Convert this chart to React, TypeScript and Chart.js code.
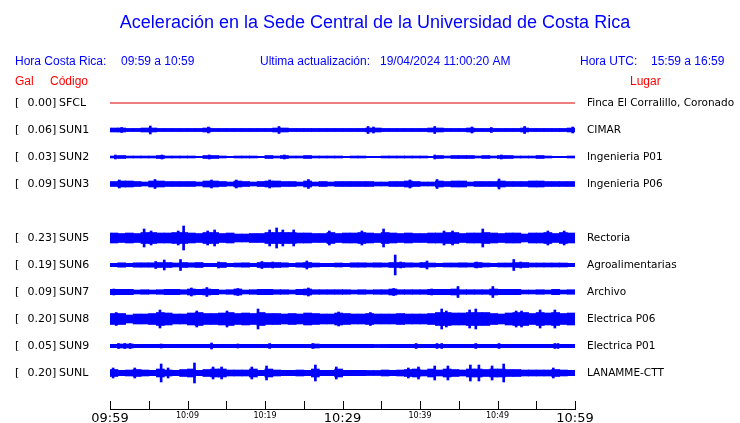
import { useEffect, useRef } from 'react';
import { Chart, registerables } from 'chart.js';

Chart.register(...registerables);

// ---- Data ----
const titleText = 'Aceleración en la Sede Central de la Universidad de Costa Rica';
const stationCodes = ['SFCL', 'SUN1', 'SUN2', 'SUN3', 'SUN5', 'SUN6', 'SUN7', 'SUN8', 'SUN9', 'SUNL'];
const stationGal = ['0.00', '0.06', '0.03', '0.09', '0.23', '0.19', '0.09', '0.20', '0.05', '0.20'];
const stationPlaces = [
  'Finca El Corralillo, Coronado', 'CIMAR', 'Ingenieria P01', 'Ingenieria P06', 'Rectoria',
  'Agroalimentarias', 'Archivo', 'Electrica P06', 'Electrica P01', 'LANAMME-CTT',
];
// row slot of each station (slot 4 = SUN4, absent)
const stationRows = [0, 1, 2, 3, 5, 6, 7, 8, 9, 10];
// time axis: minutes after 09:59
const tickLabels = ['09:59', '10:09', '10:19', '10:29', '10:39', '10:49', '10:59'];

// steady background band half-amplitude of each trace (relative units)
const coreAmp = [0, 1.5, 0.7, 2, 3.5, 1.7, 2, 3.5, 1.7, 2.3];

// per-minute envelope half-amplitude of each trace (60 one-minute bins)
const sun1Env = [2, 2, 1.5, 1.5, 2, 2, 1.5, 1.5, 1.5, 1.5, 1.5, 1.5, 2, 1.5, 1.5, 1.5, 1.5, 1.5, 1.5, 1.5,
  1.5, 2, 2, 1.5, 1.5, 1.5, 1.5, 1.5, 1.5, 1.5, 1.5, 1.5, 1.5, 2, 2, 1.5, 1.5, 1.5, 1.5, 1.5,
  1.5, 2, 2, 1.5, 1.5, 1.5, 2, 1.5, 1.5, 1.5, 1.5, 1.5, 1.5, 2, 1.5, 1.5, 1.5, 1.5, 1.5, 2];
const sun2Env = [1, 1.5, 1, 1, 1, 1, 1.5, 1, 1, 1, 1, 0.7, 1.5, 1.5, 1, 0.7, 1, 1, 1, 0.7,
  1.5, 1, 1.5, 1, 1, 1.5, 1, 1, 1, 1, 0.7, 1, 1, 0.7, 0.7, 1, 1, 1, 1, 1,
  1, 0.7, 1.5, 1, 1.5, 1.5, 1.5, 1, 1.5, 1, 1.5, 1.5, 1, 1, 1, 1.5, 1, 0.7, 0.7, 1];
const sun3Env = [2.5, 3, 3, 2.5, 2, 3, 3, 2.5, 2.5, 2.5, 2.5, 2, 3, 3, 2.5, 2, 3, 2.5, 2, 2.5,
  3, 3, 2.5, 2.5, 2, 3, 2, 2.5, 2, 2.5, 2.5, 2.5, 2.5, 2.5, 2, 2, 2.5, 2.5, 3, 2.5,
  2, 2, 3, 2.5, 3, 3, 2, 2.5, 2.5, 2.5, 3, 2.5, 2.5, 2.5, 3, 3, 2.5, 2.5, 2.5, 2.5];
const sun5Env = [5, 4.5, 5, 4.5, 5.5, 5.5, 5, 5, 5.5, 5.5, 5, 4.5, 5.5, 5.5, 4.5, 5, 4, 4, 4.5, 4.5,
  5.5, 5.5, 5.5, 5.5, 5, 5, 4.5, 4.5, 5.5, 4.5, 5, 5, 5.5, 5, 4.5, 5.5, 5, 4.5, 5, 4.5,
  4.5, 5, 5, 5.5, 5.5, 4.5, 5, 5, 5.5, 5, 4.5, 5, 5, 4, 5, 5, 5.5, 4.5, 5.5, 5];
const sun6Env = [1.7, 2.2, 1.7, 2.2, 2.2, 2.2, 2.5, 2.5, 2, 2.5, 2.2, 2.5, 1.7, 1.7, 2.5, 1.7, 2, 2.2, 1.7, 2.5,
  2.5, 2.5, 2.2, 1.7, 2.2, 2.5, 2, 1.7, 1.7, 2, 1.7, 2.2, 2.2, 2, 2.2, 2, 2.5, 2.5, 2.2, 2,
  2.5, 2, 1.7, 2, 2, 2.2, 2, 2.5, 2, 1.7, 2, 2, 2.5, 2.5, 2, 2, 2, 2, 2, 1.7];
const sun7Env = [2.7, 2.7, 2.7, 2, 2.3, 2, 2.3, 2.7, 2.7, 2.3, 3, 2.7, 3, 2.7, 2, 2.3, 3, 2, 2.3, 2.7,
  2.7, 2.3, 2.3, 2, 2.7, 3, 2.3, 2.3, 2.3, 2.3, 2.3, 2, 2.3, 2, 2.3, 2.3, 3, 2.3, 2.3, 2.3,
  2.3, 2.7, 2.7, 2.7, 3, 2.3, 2.3, 2.3, 2.3, 3, 2.7, 2.7, 2.7, 2, 2, 2.3, 2, 2.7, 2, 2.3];
const sun8Env = [5.5, 5.5, 4, 5, 5, 5.5, 6.5, 6, 5, 5, 6, 6.5, 5.5, 5.5, 6, 6.5, 5.5, 6, 5.5, 6.5,
  5.5, 5.5, 5, 5.5, 5, 6, 5.5, 5, 5, 6, 5.5, 5, 5, 5.5, 5, 5, 5, 5.5, 5, 5,
  5, 5.5, 6.5, 6.5, 6, 6, 6.5, 6.5, 6.5, 5.5, 5, 6, 6.5, 6.5, 5.5, 6.5, 6, 6.5, 5.5, 6];
const sun9Env = [1.7, 2, 2, 1.7, 1.7, 1.7, 1.7, 1.7, 1.7, 1.7, 1.7, 1.7, 1.7, 1.7, 1.7, 1.7, 1.7, 1.7, 1.7, 1.7,
  1.7, 1.7, 1.7, 1.7, 1.7, 1.7, 2, 1.7, 1.7, 1.7, 1.7, 1.7, 1.7, 1.7, 1.3, 1.5, 1.7, 1.7, 1.7, 1.7,
  1.7, 1.7, 1.7, 1.7, 1.7, 1.7, 1.7, 1.7, 1.7, 1.7, 1.7, 1.7, 1.7, 1.7, 1.7, 1.7, 1.7, 1.7, 1.7, 1.7];
const sunlEnv = [3.5, 2.7, 3, 3.5, 3, 2.7, 4, 3, 2.7, 3.5, 4, 2.7, 3.5, 4, 4, 3, 3, 3, 4, 2.7,
  4, 3, 2.7, 2.7, 3, 2.7, 4, 2.7, 2.7, 4, 2.7, 2.7, 2.7, 2.5, 2.5, 3, 2.7, 3, 3.5, 4,
  3, 4, 3, 4, 3.5, 3, 4, 4, 3.5, 4, 4, 3.5, 3.5, 3, 3, 3, 3, 3.5, 3, 2.7];
const traceEnvelopes = [[], sun1Env, sun2Env, sun3Env, sun5Env, sun6Env, sun7Env, sun8Env, sun9Env, sunlEnv];

// isolated spikes: [minute after 09:59, half-amplitude]
const sun1Spikes = [[1.5, 2.5], [5.2, 4], [12.7, 3], [21.8, 3.5], [33.3, 3.5], [34.0, 3], [41.9, 3.5], [46.7, 3], [49.2, 2.5], [53.5, 3.5], [59.7, 3]];
const sun2Spikes = [[0.7, 2], [6.7, 2], [12.8, 2], [22.5, 2], [41.9, 2], [50.5, 2]];
const sun3Spikes = [[1.2, 4], [5.8, 4.5], [13.1, 4], [16.3, 4], [20.6, 4], [25.6, 4.5], [38.7, 4], [42.2, 4.5], [50.2, 5]];
const sun5Spikes = [[4.4, 9], [5.3, 7], [8.8, 7], [9.5, 12], [12.6, 7], [13.5, 8], [20.6, 8], [21.5, 10], [22.3, 8], [23.7, 8], [28.3, 7],
  [32.5, 7], [35.3, 9], [43.1, 7], [44.2, 7], [48.1, 9], [56.5, 7], [58.6, 7]];
const sun6Spikes = [[5.9, 3.5], [7.0, 5], [9.1, 5.5], [14, 3], [19.6, 3.5], [21, 3], [25.4, 4], [36.8, 10], [37.5, 3], [40.9, 4], [47.3, 3], [52.1, 5.5], [53, 3]];
const sun7Spikes = [[0.5, 3], [10.5, 4], [12.5, 4.5], [16.5, 3.5], [25.6, 4], [36.6, 3.5], [41.5, 3], [44.9, 5.5], [49.4, 5.5]];
const sun8Spikes = [[0.8, 6.5], [6.45, 9], [11.2, 8], [15.1, 8], [19.1, 10], [29.5, 7], [33.6, 6.5], [42.8, 10], [43.4, 8], [46.4, 9], [47.2, 10],
  [52.4, 8], [53.1, 8], [55.5, 9], [57.4, 9]];
const sun9Spikes = [[1.1, 2.5], [1.9, 2.5], [2.6, 2.5], [6.6, 2], [13.1, 3], [16.5, 2], [20.6, 2.5], [26.2, 2.5], [39.5, 2.5], [42.2, 2.5],
  [42.8, 2.5], [47.2, 2.5], [50.2, 2.5], [57.4, 2.5], [57.8, 2.5]];
const sunlSpikes = [[0.4, 5], [3.2, 5], [6.6, 9], [7.5, 5], [10.9, 10], [13.3, 6], [14.4, 6], [18.3, 6], [20.2, 7], [26.5, 8], [29.2, 6],
  [38.5, 5], [39.8, 6], [41.9, 7], [43.6, 7], [46.5, 8], [47.6, 8], [49.3, 7], [50.8, 9], [57.2, 5]];
const traceSpikes = [[], sun1Spikes, sun2Spikes, sun3Spikes, sun5Spikes, sun6Spikes, sun7Spikes, sun8Spikes, sun9Spikes, sunlSpikes];

const TRACE_BLUE = '#0000ff';
const REF_RED = '#e00000';
const AMP_PER_ROW = 27; // relative amplitude units per row slot

export default function App() {
  const ref = useRef<HTMLCanvasElement>(null);

  useEffect(() => {
    document.body.style.margin = '0';
    const canvas = ref.current!;
    const datasets: any[] = [];

    stationRows.forEach((row, i) => {
      const core = coreAmp[i] / AMP_PER_ROW;
      if (i === 0) {
        datasets.push({
          type: 'line',
          data: [{ x: 0, y: row }, { x: 60, y: row }],
          borderColor: REF_RED,
          borderWidth: 1,
          pointRadius: 0,
          fill: false,
        });
        return;
      }
      datasets.push({
        type: 'line',
        data: [{ x: 0, y: row - core }, { x: 60, y: row - core }],
        borderWidth: 0,
        borderColor: 'rgba(0,0,0,0)',
        pointRadius: 0,
        fill: false,
      });
      datasets.push({
        type: 'line',
        data: [{ x: 0, y: row + core }, { x: 60, y: row + core }],
        borderWidth: 0,
        borderColor: 'rgba(0,0,0,0)',
        backgroundColor: TRACE_BLUE,
        pointRadius: 0,
        fill: '-1',
      });
      datasets.push({
        type: 'bar',
        data: traceEnvelopes[i].map((a, k) => ({ x: k + 0.5, y: [row - a / AMP_PER_ROW, row + a / AMP_PER_ROW] })),
        backgroundColor: TRACE_BLUE,
        borderWidth: 0,
        barThickness: 8,
        grouped: false,
      });
      datasets.push({
        type: 'bar',
        data: traceSpikes[i].map(([t, a]) => ({ x: t, y: [row - a / AMP_PER_ROW, row + a / AMP_PER_ROW] })),
        backgroundColor: TRACE_BLUE,
        borderWidth: 0,
        barThickness: 2,
        grouped: false,
      });
    });

    const textPlugin = {
      id: 'seismoText',
      afterDraw(chart: any) {
        const c = chart.ctx;
        const xs = chart.scales.x;
        const ys = chart.scales.y;
        const bottom = chart.chartArea.bottom;
        c.save();
        // upward tick marks on the time axis
        c.strokeStyle = '#000';
        c.lineWidth = 1;
        xs.ticks.forEach((t: any) => {
          const px = Math.round(xs.getPixelForValue(t.value)) + 0.5;
          c.beginPath();
          c.moveTo(px, bottom - 8);
          c.lineTo(px, bottom);
          c.stroke();
        });
        // title
        c.fillStyle = '#0000ff';
        c.font = '18px "Liberation Sans", Arial, sans-serif';
        c.textAlign = 'center';
        c.textBaseline = 'alphabetic';
        c.fillText(titleText, 375, 28);
        // header line
        c.font = '12px "Liberation Sans", Arial, sans-serif';
        c.textAlign = 'left';
        c.fillText('Hora Costa Rica:', 15, 65);
        c.fillText('09:59 a 10:59', 121, 65);
        c.fillText('Ultima actualización:', 260, 65);
        c.fillText('19/04/2024 11:00:20 AM', 380, 65);
        c.fillText('Hora UTC:', 580, 65);
        c.fillText('15:59 a 16:59', 651, 65);
        c.fillStyle = '#ff0000';
        c.fillText('Gal', 15, 85);
        c.fillText('Código', 50, 85);
        c.fillText('Lugar', 630, 85);
        // station labels
        c.fillStyle = '#000';
        c.textBaseline = 'middle';
        stationRows.forEach((row, i) => {
          const py = ys.getPixelForValue(row) + 0.5;
          c.font = '11px "DejaVu Sans", sans-serif';
          c.fillText('[', 15, py);
          c.fillText(stationGal[i] + ']', 27.5, py);
          c.fillText(stationCodes[i], 59, py);
          c.font = '10.5px "DejaVu Sans", sans-serif';
          c.fillText(stationPlaces[i], 587, py);
        });
        c.restore();
      },
    };

    const yTop = -13 / 27;
    const chart = new Chart(canvas, {
      type: 'bar',
      data: { datasets },
      options: {
        responsive: false,
        animation: false,
        events: [],
        layout: { padding: { left: 110, right: 165, top: 90, bottom: 0 } },
        plugins: { legend: { display: false }, tooltip: { enabled: false }, title: { display: false } },
        scales: {
          x: {
            type: 'linear',
            min: 0,
            max: 60,
            offset: false,
            afterFit: (s: any) => { s.height = 14; },
            grid: { display: false, drawTicks: false },
            border: { display: true, color: '#000', width: 1 },
            ticks: {
              stepSize: 5,
              autoSkip: false,
              maxRotation: 0,
              padding: 2,
              color: '#000',
              font: (ctx: any) => {
                const v = ctx && ctx.tick ? ctx.tick.value : 0;
                const big = v % 30 === 0;
                return { family: '"DejaVu Sans", sans-serif', size: big ? 13 : 8 };
              },
              callback: (v: any) => (Number(v) % 10 === 0 ? tickLabels[Number(v) / 10] : ''),
            },
          },
          y: {
            type: 'linear',
            display: false,
            reverse: true,
            min: yTop,
            max: yTop + 319 / 27,
          },
        },
      } as any,
      plugins: [textPlugin],
    });
    return () => chart.destroy();
  }, []);

  return (
    <div style={{ position: 'absolute', left: 0, top: 0, width: 740, height: 423 }}>
      <canvas ref={ref} width={740} height={423} style={{ display: 'block' }} />
    </div>
  );
}
